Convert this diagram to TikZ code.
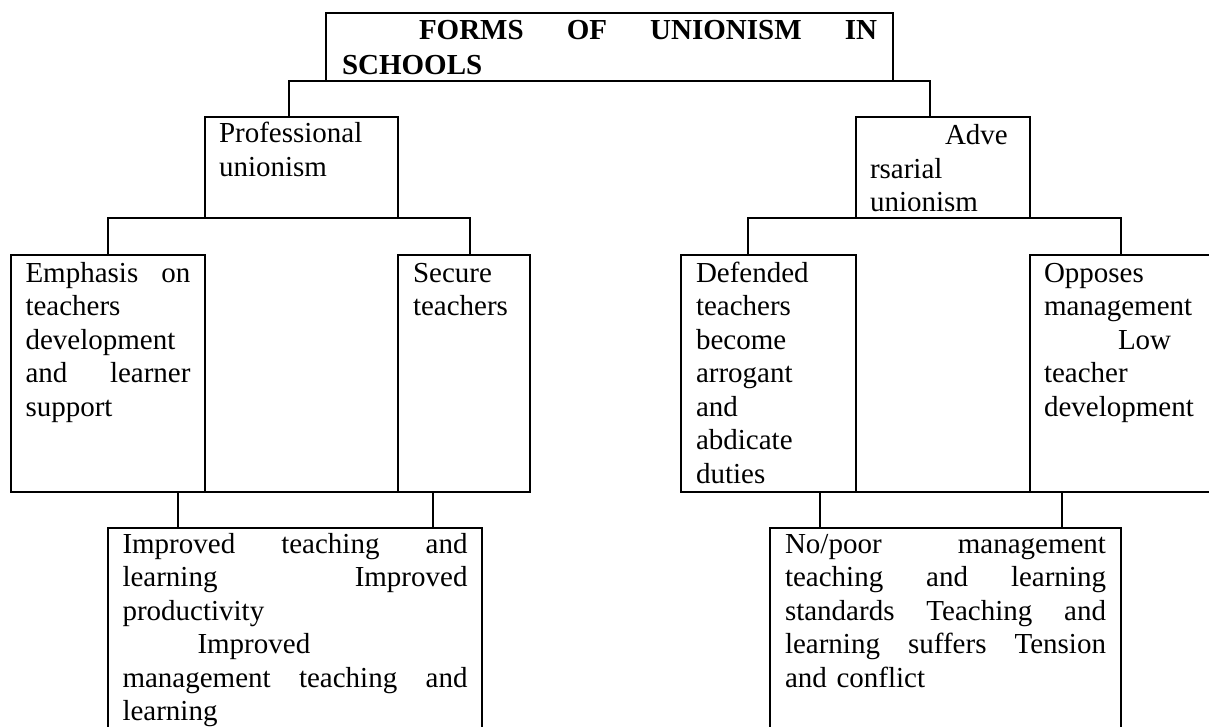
\documentclass[tikz,border=0pt]{standalone}
\usepackage{fontspec}
\setmainfont{Liberation Serif}
\newcommand{\jline}[1]{\leavevmode\hbox to \hsize{\spaceskip=0.25em plus 10em\relax #1}}
\begin{document}
\begin{tikzpicture}[x=1pt,y=-1pt,
  boxnode/.style={draw, line width=1.8pt, anchor=north west, outer sep=0pt,
    inner ysep=3pt, align=left, font=\fontsize{29}{33.5}\selectfont},
  titlenode/.style={boxnode, font=\bfseries\fontsize{29}{35}\selectfont},
  link/.style={draw, line width=1.8pt}]
\useasboundingbox (0,0) rectangle (1209,727);
\clip (0,0) rectangle (1209,727);

% top
\node[titlenode, inner xsep=16pt, text width=535pt, text height=24pt, text depth=38pt]
  (top) at (326,13) {\jline{\hspace*{77pt}FORMS OF UNIONISM IN}\\SCHOOLS};

% level 2
\node[boxnode, inner xsep=14pt, text width=165pt, text height=23pt, text depth=72pt]
  (prof) at (205,117) {Professional\\unionism};
\node[boxnode, inner xsep=14pt, text width=146pt, text height=25pt, text depth=70pt]
  (adv) at (856,117) {\hspace*{75pt}Adve\\rsarial\\unionism};

% level 3
\node[boxnode, inner xsep=14.5pt, text width=165pt, text height=24pt, text depth=207pt]
  (emph) at (11,255) {\jline{Emphasis on}\\teachers\\development\\\jline{and learner}\\support};
\node[boxnode, inner xsep=15pt, text width=102pt, text height=24pt, text depth=207pt]
  (secure) at (398,255) {Secure\\teachers};
\node[boxnode, inner xsep=15pt, text width=145pt, text height=24pt, text depth=207pt]
  (def) at (681,255) {Defended\\teachers\\become\\arrogant\\and\\abdicate\\duties};
\node[boxnode, inner xsep=14pt, text width=158pt, text height=24pt, text depth=207pt]
  (opp) at (1030,255) {Opposes\\management\\\hspace*{74pt}Low\\teacher\\development};

% level 4
\node[boxnode, inner xsep=14.5pt, text width=345pt, text height=22pt, text depth=204pt]
  (imp) at (108,528) {\jline{Improved teaching and}\\\jline{learning Improved}\\productivity\\\hspace*{75pt}Improved\\\jline{management teaching and}\\learning};
\node[boxnode, inner xsep=15pt, text width=321pt, text height=22pt, text depth=204pt]
  (poor) at (770,528) {\jline{No/poor management}\\\jline{teaching and learning}\\\jline{standards Teaching and}\\\jline{learning suffers Tension}\\and conflict};

% connectors
\coordinate (profin) at ([xshift=84pt]prof.north west);
\coordinate (advin) at ([xshift=74pt]adv.north west);
\draw[link] (profin) |- (top.south) -| (advin);

\coordinate (emphin) at ([xshift=97pt]emph.north west);
\coordinate (securein) at ([xshift=72pt]secure.north west);
\draw[link] (emphin) |- (prof.south) -| (securein);

\coordinate (defin) at ([xshift=67pt]def.north west);
\coordinate (oppin) at ([xshift=91pt]opp.north west);
\draw[link] (defin) |- (adv.south) -| (oppin);

\coordinate (impl) at ([xshift=70pt]imp.north west);
\coordinate (impr) at ([xshift=325pt]imp.north west);
\draw[link] (impl) |- (emph.south east) -| (impr);

\coordinate (poorl) at ([xshift=50pt]poor.north west);
\coordinate (poorr) at ([xshift=292pt]poor.north west);
\draw[link] (poorl) |- (def.south east) -| (poorr);
\end{tikzpicture}
\end{document}
